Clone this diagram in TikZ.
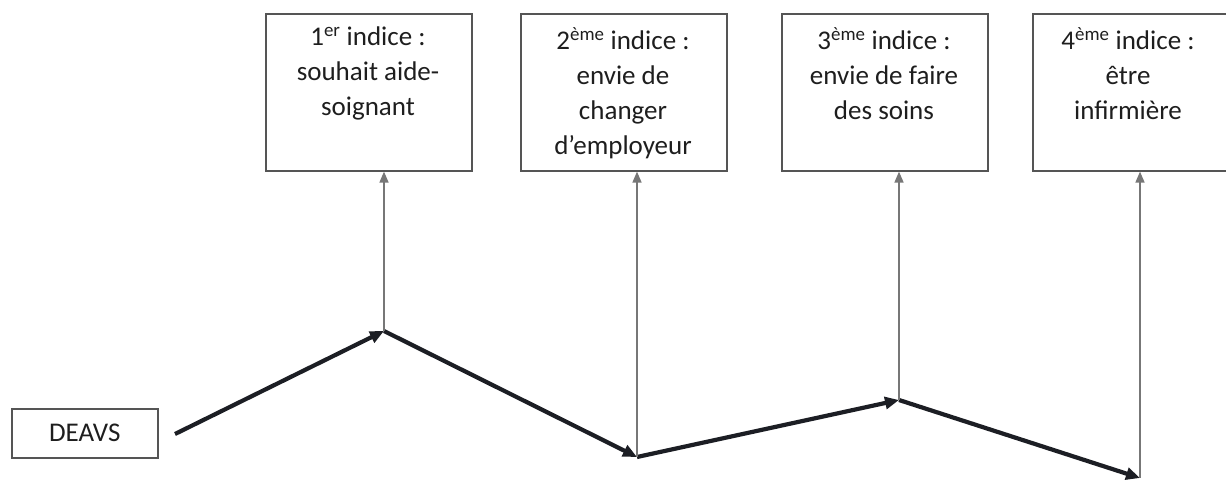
\documentclass[tikz,border=0pt]{standalone}
\usepackage{fontspec}
\setmainfont{Carlito}
\usetikzlibrary{arrows.meta}
\definecolor{boxgray}{HTML}{555555}
\definecolor{textblack}{HTML}{1E1E1E}
\definecolor{zigcol}{HTML}{1C1E24}
\definecolor{upgray}{HTML}{777777}
\begin{document}
\begin{tikzpicture}[x=1pt,y=-1pt,
  box/.style={draw=boxgray, line width=1.6pt, minimum width=206pt, minimum height=157pt, inner sep=0pt, anchor=north west},
  smallbox/.style={draw=boxgray, line width=1.6pt, minimum width=146pt, minimum height=49pt, inner sep=0pt, anchor=north west, text=textblack, font=\fontsize{27}{35}\selectfont},
  txt/.style={align=center, font=\fontsize{27}{35}\selectfont, text=textblack, inner sep=0pt, anchor=north},
  zig/.style={line width=4.2pt, draw=zigcol, -{Triangle[length=14pt,width=12pt]}},
  uparrow/.style={line width=1.6pt, draw=upgray, -{Triangle[length=11pt,width=9pt]}}]
\useasboundingbox (0,0) rectangle (1226,484);

% boxes
\node[box] (b1) at (265,13) {};
\node[box] (b2) at (520,13) {};
\node[box] (b3) at (781,13) {};
\node[box] (b4) at (1032,13) {};

\node[txt] (t1) at (368,27) {1\textsuperscript{er} indice :\\souhait aide-\\soignant};
\node[txt] (t2) at (623,27) {2\textsuperscript{ème} indice :\\envie de\\changer\\d’employeur};
\node[txt] (t3) at (884,27) {3\textsuperscript{ème} indice :\\envie de faire\\des soins};
\node[txt] (t4) at (1128,27) {4\textsuperscript{ème} indice :\\être\\infirmière};

\node[smallbox] (deavs) at (11,408) {DEAVS};

% zigzag path points
\coordinate (s) at (175,434);
\coordinate (v1) at (384,331);
\coordinate (v2) at (637,457);
\coordinate (v3) at (899,400);
\coordinate (v4) at (1140,478);

\draw[zig] (s) -- (v1);
\draw[zig] (v1) -- (v2);
\draw[zig] (v2) -- (v3);
\draw[zig] (v3) -- (v4);

\draw[uparrow] (v1) -- (v1 |- b1.south);
\draw[uparrow] (v2) -- (v2 |- b2.south);
\draw[uparrow] (v3) -- (v3 |- b3.south);
\draw[uparrow] (v4) -- (v4 |- b4.south);
\end{tikzpicture}
\end{document}
